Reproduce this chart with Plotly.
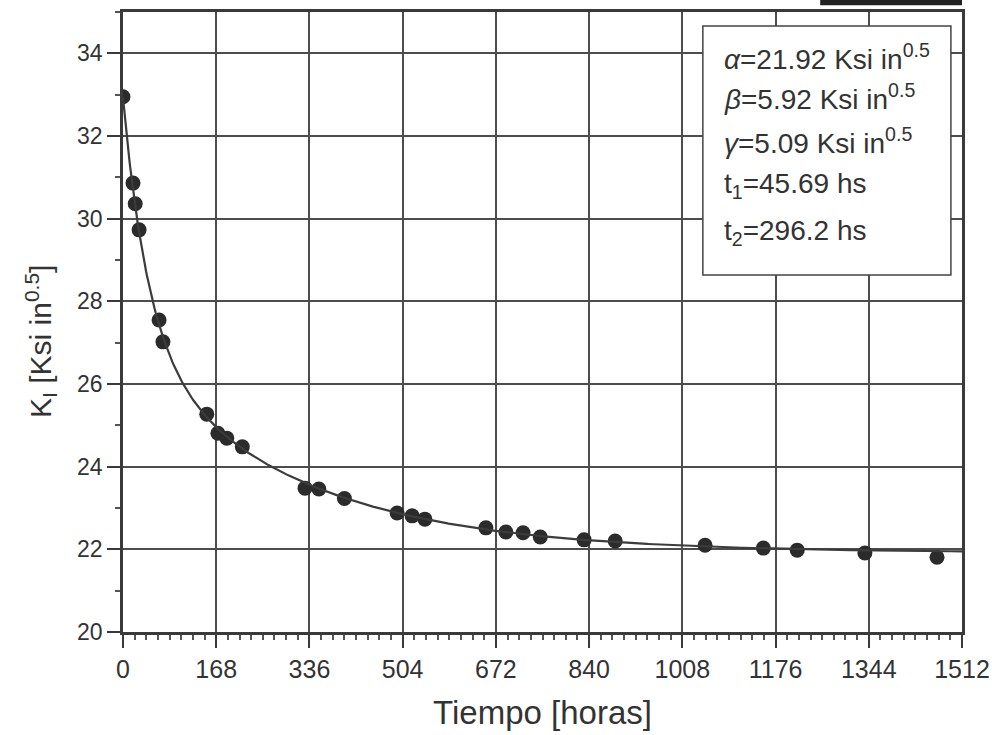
import numpy as np
import plotly.graph_objects as go

# Measured stress intensity factor vs. time
t_hours = [0, 18, 22, 29, 65, 72, 151, 171, 187, 215, 328, 353, 399, 494, 521,
           544, 654, 690, 721, 752, 831, 887, 1049, 1154, 1215, 1337, 1467]
k_values = [32.95, 30.86, 30.36, 29.73, 27.55, 27.02, 25.27, 24.81, 24.69, 24.48,
            23.48, 23.46, 23.23, 22.88, 22.81, 22.73, 22.52, 22.42, 22.40, 22.30,
            22.23, 22.20, 22.10, 22.03, 21.98, 21.91, 21.81]

# Fitted model parameters: K = alpha + beta*exp(-t/t1) + gamma*exp(-t/t2)
alpha, beta, gamma = 21.92, 5.92, 5.09
t1, t2 = 45.69, 296.2

x_ticks = [0, 168, 336, 504, 672, 840, 1008, 1176, 1344, 1512]
y_ticks = [20, 22, 24, 26, 28, 30, 32, 34]

t_fit = np.linspace(0, 1512, 800)
k_fit = alpha + beta * np.exp(-t_fit / t1) + gamma * np.exp(-t_fit / t2)

FONT = "Liberation Sans, Arial, sans-serif"
INK = "#333333"

fig = go.Figure()
fig.add_trace(go.Scatter(
    x=t_hours, y=k_values, mode="markers",
    marker=dict(size=15, color="#2b2b2b", line=dict(width=0)),
    showlegend=False,
))
fig.add_trace(go.Scatter(
    x=t_fit, y=k_fit, mode="lines",
    line=dict(color="#3c3c3c", width=2.2),
    showlegend=False,
))

# Parameter box
fig.add_shape(type="rect", xref="x", yref="y",
              x0=1045, x1=1492, y0=28.64, y1=34.66,
              fillcolor="white", line=dict(color="#444444", width=1.5),
              layer="above")

param_lines = [
    ("<i>α</i>=%.2f Ksi in<sup>0.5</sup>" % alpha, 33.90),
    ("<i>β</i>=%.2f Ksi in<sup>0.5</sup>" % beta, 32.95),
    ("<i>γ</i>=%.2f Ksi in<sup>0.5</sup>" % gamma, 31.88),
    ("t<sub>1</sub>=%.2f hs" % t1, 30.80),
    ("t<sub>2</sub>=%.1f hs" % t2, 29.66),
]
for txt, yy in param_lines:
    fig.add_annotation(x=1079, y=yy, xref="x", yref="y", text=txt,
                       showarrow=False, xanchor="left", yanchor="middle",
                       font=dict(family=FONT, size=28, color=INK))

# Y-axis title
fig.add_annotation(x=-0.098, y=0.469, xref="paper", yref="paper",
                   text="K<sub>I</sub> [Ksi in<sup>0.5</sup>]", textangle=-90,
                   showarrow=False, xanchor="center", yanchor="middle",
                   font=dict(family=FONT, size=30, color=INK))

# Dark strip at the top right edge
fig.add_shape(type="rect", xref="paper", yref="paper",
              x0=0.831, x1=1.0, y0=1.011, y1=1.03,
              fillcolor="#222222", line=dict(width=0), layer="above")

axis_common = dict(
    showline=True, linecolor="#3a3a3a", linewidth=2.5, mirror=True,
    showgrid=True, gridcolor="#4d4d4d", gridwidth=1.6,
    ticks="outside", ticklen=13, tickwidth=2, tickcolor="#3a3a3a",
    zeroline=False, automargin=False,
)

fig.update_xaxes(
    range=[0, 1512], tickvals=x_ticks, ticktext=[str(v) for v in x_ticks],
    tickfont=dict(family=FONT, size=25, color=INK),
    title=dict(text="Tiempo [horas]", font=dict(family=FONT, size=33, color=INK),
               standoff=20),
    minor=dict(dtick=21, tick0=0, ticks="outside", ticklen=5, tickwidth=2,
               tickcolor="#555555", showgrid=False),
    **axis_common,
)
fig.update_yaxes(
    range=[20, 35], tickvals=y_ticks, ticktext=[str(v) for v in y_ticks],
    tickfont=dict(family=FONT, size=23, color=INK),
    minor=dict(dtick=1, tick0=20, ticks="outside", ticklen=5, tickwidth=2,
               tickcolor="#555555", showgrid=False),
    **axis_common,
)

fig.update_layout(
    width=992, height=735,
    margin=dict(l=123, r=30, t=12, b=103),
    paper_bgcolor="white", plot_bgcolor="white",
    font=dict(family=FONT, color=INK),
)

fig.write_html("out.html")
